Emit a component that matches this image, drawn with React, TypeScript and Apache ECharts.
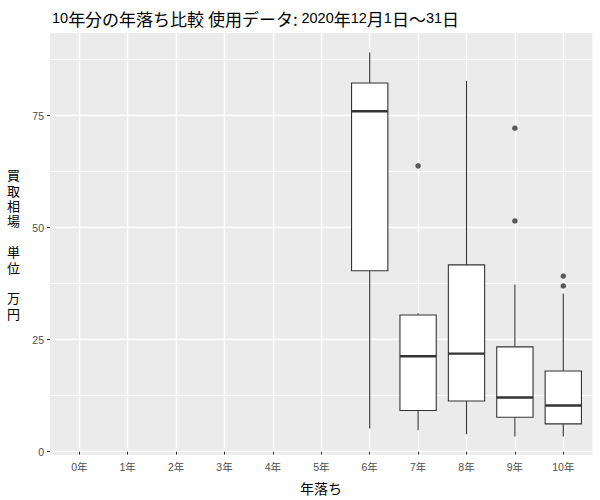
import React, { useEffect, useRef } from "react";
import * as echarts from "echarts";

const categories = ["0年", "1年", "2年", "3年", "4年", "5年", "6年", "7年", "8年", "9年", "10年"];
const boxCategories = ["6年", "7年", "8年", "9年", "10年"];
const whiskerLow = [5.2, 4.8, 3.9, 3.4, 3.4];
const q1 = [40.4, 9.2, 11.3, 7.7, 6.2];
const median = [76.0, 21.3, 21.9, 12.1, 10.3];
const q3 = [82.3, 30.5, 41.7, 23.4, 18.0];
const whiskerHigh = [89.1, 30.9, 82.8, 37.3, 35.3];
const outlierCategories = ["7年", "9年", "9年", "10年", "10年"];
const outlierValues = [63.8, 72.2, 51.5, 39.2, 37.0];
const yMajorTicks = [0, 25, 50, 75];

const LATIN = "'Liberation Sans', 'Noto Sans CJK JP', sans-serif";
const CJK = "'Noto Sans CJK JP', sans-serif";

export default function App() {
  const ref = useRef<HTMLDivElement>(null);
  useEffect(() => {
    if (!ref.current) return;
    const chart = echarts.init(ref.current, null, { renderer: "svg" });
    const boxData = boxCategories.map((c, i) => [c, whiskerLow[i], q1[i], median[i], q3[i], whiskerHigh[i]]);
    const outlierData = outlierCategories.map((c, i) => [c, outlierValues[i]]);
    const option: any = {
      animation: false,
      title: {
        text: "{a|10}{b|年分の年落ち比較 使用データ: }{a|2020}{b|年}{a|12}{b|月}{a|1}{b|日～}{a|31}{b|日}",
        left: 47,
        top: 5,
        textStyle: {
          fontWeight: "normal",
          rich: {
            a: { fontSize: 14.5, fontFamily: LATIN, color: "#000", fontWeight: "normal" },
            b: { fontSize: 17, fontFamily: CJK, color: "#000", fontWeight: "normal" },
          },
        },
      },
      graphic: [
        {
          type: "rect",
          z: -10,
          shape: { x: 50, y: 33, width: 542.3, height: 421.7 },
          style: { fill: "#EBEBEB" },
        },
        {
          type: "text",
          x: 13.5,
          y: 244,
          style: {
            text: "買\n取\n相\n場\n\n単\n位\n\n万\n円",
            fontSize: 13,
            lineHeight: 15.4,
            fontFamily: CJK,
            fill: "#000",
            align: "center",
            verticalAlign: "middle",
          },
        },
        {
          type: "text",
          x: 321,
          y: 488,
          style: {
            text: "年落ち",
            fontSize: 14,
            fontFamily: CJK,
            fill: "#000",
            align: "center",
            verticalAlign: "middle",
          },
        },
      ],
      grid: [
        { left: 55.1, right: 12.5, top: 32.8, bottom: 48.3 },
        { left: 79.3, right: 36.7, top: 33, bottom: 45.3 },
        { left: 50, right: 7.7, top: 59.7, bottom: 48.3 },
        { left: 50, right: 7.7, top: 115.7, bottom: 48.3 },
      ],
      xAxis: [
        {
          type: "category",
          gridIndex: 0,
          data: categories,
          boundaryGap: true,
          offset: 3,
          axisLine: { show: false },
          axisTick: { show: true, alignWithLabel: true, length: 3, lineStyle: { color: "#333333", width: 1 } },
          axisLabel: { interval: 0, color: "#4D4D4D", fontSize: 10.5, margin: 7, fontFamily: LATIN },
          splitLine: { show: false },
        },
        {
          type: "value",
          gridIndex: 1,
          min: 0,
          max: 10,
          interval: 1,
          axisLine: { show: false },
          axisTick: { show: false },
          axisLabel: { show: false },
          splitLine: { show: true, lineStyle: { color: "#FFFFFF", width: 1.4 } },
        },
        { type: "value", gridIndex: 2, min: 0, max: 1, show: false },
        { type: "value", gridIndex: 3, min: 0, max: 1, show: false },
      ],
      yAxis: [
        { type: "value", gridIndex: 0, min: 0, max: 93.5, show: false },
        { type: "value", gridIndex: 1, min: 0, max: 1, show: false },
        {
          type: "value",
          gridIndex: 2,
          min: 0,
          max: 87.5,
          interval: 12.5,
          axisLine: { show: false },
          axisTick: { show: false },
          axisLabel: { show: false },
          splitLine: { show: true, lineStyle: { color: "#FFFFFF", width: 0.8 } },
        },
        {
          type: "value",
          gridIndex: 3,
          min: 0,
          max: 75,
          interval: 25,
          axisLine: { show: false },
          axisTick: { show: true, length: 3, lineStyle: { color: "#333333", width: 1 } },
          axisLabel: {
            color: "#4D4D4D",
            fontSize: 10.5,
            margin: 6,
            fontFamily: LATIN,
            formatter: (v: number) => (yMajorTicks.includes(v) ? String(v) : ""),
          },
          splitLine: { show: true, lineStyle: { color: "#FFFFFF", width: 1.4 } },
        },
      ],
      series: [
        {
          type: "custom",
          xAxisIndex: 0,
          yAxisIndex: 0,
          data: boxData,
          encode: { x: 0, y: [1, 2, 3, 4, 5] },
          renderItem: (params: any, api: any) => {
            const x = api.value(0);
            const lo = api.coord([x, api.value(1)]);
            const b1 = api.coord([x, api.value(2)]);
            const md = api.coord([x, api.value(3)]);
            const b3 = api.coord([x, api.value(4)]);
            const hi = api.coord([x, api.value(5)]);
            const w = api.size([1, 0])[0] * 0.75;
            const cx = lo[0];
            const stroke = "#333333";
            return {
              type: "group",
              children: [
                { type: "line", shape: { x1: cx, y1: lo[1], x2: cx, y2: b1[1] }, style: { stroke, lineWidth: 1.1 } },
                { type: "line", shape: { x1: cx, y1: b3[1], x2: cx, y2: hi[1] }, style: { stroke, lineWidth: 1.1 } },
                {
                  type: "rect",
                  shape: { x: cx - w / 2, y: b3[1], width: w, height: b1[1] - b3[1] },
                  style: { fill: "#FFFFFF", stroke, lineWidth: 1.1 },
                },
                {
                  type: "line",
                  shape: { x1: cx - w / 2, y1: md[1], x2: cx + w / 2, y2: md[1] },
                  style: { stroke, lineWidth: 2.4 },
                },
              ],
            };
          },
        },
        {
          type: "scatter",
          xAxisIndex: 0,
          yAxisIndex: 0,
          data: outlierData,
          symbol: "circle",
          symbolSize: 5.5,
          itemStyle: { color: "#333333" },
        },
      ],
    };
    chart.setOption(option);
    return () => chart.dispose();
  }, []);
  return <div ref={ref} style={{ position: "absolute", left: 0, top: 0, width: 600, height: 500 }} />;
}
